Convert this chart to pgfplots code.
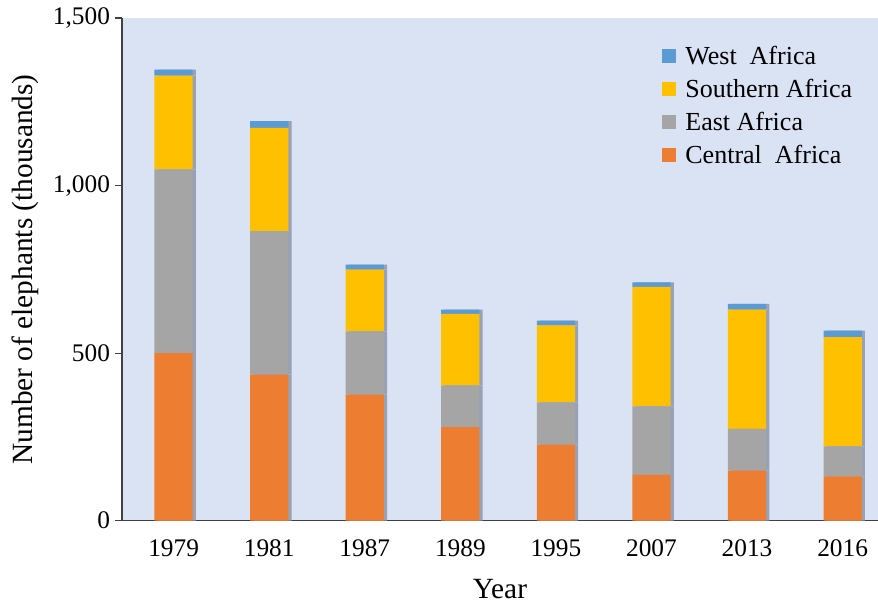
\documentclass[border=0pt]{standalone}
\usepackage{pgfplots}
\pgfplotsset{compat=1.18}
\usepackage{fontspec}
\setmainfont{Liberation Serif}
\usetikzlibrary{calc}

\definecolor{central}{HTML}{ED7D31}
\definecolor{east}{HTML}{A5A5A5}
\definecolor{southern}{HTML}{FFC000}
\definecolor{west}{HTML}{5B9BD5}
\definecolor{bgblue}{HTML}{DAE3F3}
\definecolor{shadow}{HTML}{99A2B4}
\newcommand\shadowcol{shadow}

\begin{document}
\begin{tikzpicture}
\begin{axis}[
    name=ax,
    scale only axis,
    width=567pt, height=377pt,
    ybar stacked,
    bar width=0.4,
    xmin=-0.54, xmax=7.37,
    ymin=0, ymax=1500,
    xtick={0,...,7},
    xticklabels={1979,1981,1987,1989,1995,2007,2013,2016},
    ytick={0,500,1000,1500},
    axis lines*=left,
    axis line style={black!75, line width=0.9pt},
    axis background/.style={fill=bgblue},
    x tick style={draw=none},
    y tick style={black!75, line width=0.9pt},
    tick align=outside,
    major tick length=5.5pt,
    ticklabel style={font=\fontsize{19}{22}\selectfont},
    xticklabel style={yshift=-5pt},
    xlabel={Year},
    ylabel={Number of elephants (thousands)},
    label style={font=\fontsize{22}{25}\selectfont},
    xlabel style={yshift=-10pt},
    ylabel style={yshift=4pt},
    every axis plot/.append style={
        preaction={fill=\shadowcol, transform canvas={xshift=2.4pt}}},
    legend style={at={(rel axis cs:0.975,0.955)}, anchor=north east,
        draw=none, fill=none, font=\fontsize{19.5}{22}\selectfont,
        row sep=5.5pt, column sep=5pt},
    legend cell align=left,
    reverse legend,
    % square key without the bar shadow
    legend image code/.code={
        \def\shadowcol{none}
        \fill[#1] (0pt,-5.25pt) rectangle (10.5pt,5.25pt);},
    /pgf/number format/1000 sep={,},
    /pgf/number format/assume math mode=true,
]
% Central Africa
\addplot[fill=central, draw=none] coordinates {
    (0,500) (1,436) (2,376) (3,279) (4,227) (5,137) (6,149) (7,132)};
% East Africa
\addplot[fill=east, draw=none] coordinates {
    (0,548) (1,428) (2,189) (3,125) (4,126) (5,204) (6,125) (7,90)};
% Southern Africa
\addplot[fill=southern, draw=none] coordinates {
    (0,280) (1,308) (2,184) (3,213) (4,230) (5,357) (6,356) (7,326)};
% West Africa
\addplot[fill=west, draw=none] coordinates {
    (0,18) (1,20) (2,15) (3,13) (4,14) (5,13) (6,17) (7,19)};
\legend{Central~~Africa, East Africa, Southern Africa, West~~Africa}
\end{axis}
\pgfresetboundingbox
\path[use as bounding box] ($(ax.south west)+(-91.5pt,-65.25pt)$) rectangle ($(ax.north east)+(0,13.5pt)$);
\end{tikzpicture}
\end{document}
